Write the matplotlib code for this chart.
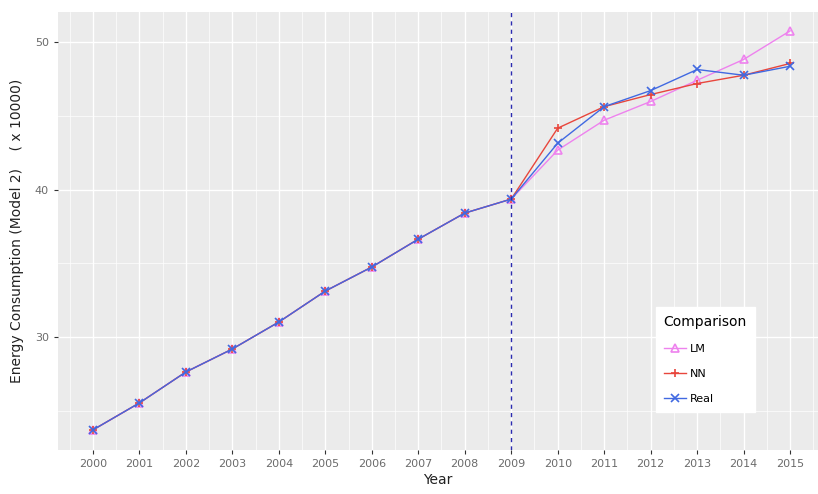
import numpy as np
import matplotlib.pyplot as plt

# data (units of 10000)
years = list(range(2000, 2016))
common = [23.70, 25.53, 27.63, 29.19, 31.02, 33.12, 34.75, 36.64, 38.41, 39.36]
lm = common + [42.68, 44.71, 45.98, 47.42, 48.83, 50.77]
nn = common + [44.17, 45.63, 46.45, 47.20, 47.76, 48.56]
real = common + [43.15, 45.63, 46.72, 48.15, 47.76, 48.37]

series = [('LM', lm, '#ee82ee', '^'),
          ('NN', nn, '#e8463c', '+'),
          ('Real', real, '#4169e1', 'x')]

fig = plt.figure(figsize=(8.18, 4.94), dpi=100)
ax = fig.add_axes([58 / 818, 44 / 494, 760 / 818, 438 / 494])
ax.set_facecolor('#ebebeb')

for name, vals, col, mk in series:
    ax.plot(years, vals, color=col, linewidth=1.0, marker=mk,
            markersize=6, markerfacecolor='none' if mk == '^' else col,
            markeredgewidth=1.2, label=name)

ax.axvline(2009, color='#2b2bb0', linestyle=(0, (3, 3)), linewidth=1.0)

ax.set_xlim(1999.25, 2015.6)
ax.set_ylim(22.34, 52.05)
ax.set_xticks(years)
ax.set_xticks(np.arange(1999.5, 2016, 1), minor=True)
ax.set_yticks([30, 40, 50])
ax.set_yticks([25, 35, 45], minor=True)

ax.grid(which='major', color='white', linewidth=1.0)
ax.grid(which='minor', color='white', linewidth=0.5)
ax.set_axisbelow(True)
for s in ax.spines.values():
    s.set_visible(False)
ax.tick_params(which='major', colors='#333333', labelcolor='#6b6b6b',
               labelsize=8, length=3)
ax.tick_params(which='minor', length=0)

ax.set_xlabel('Year', fontsize=10, color='#222222', labelpad=3)
ax.set_ylabel('Energy Consumption (Model 2)    ( x 10000)', fontsize=10,
              color='#222222', labelpad=8)

leg = ax.legend(title='Comparison', loc='lower right',
                bbox_to_anchor=(0.924, 0.075), frameon=True, fancybox=False,
                edgecolor='white', facecolor='white', framealpha=1,
                fontsize=8, title_fontsize=10, handlelength=2.0,
                labelspacing=1.35, borderpad=0.7, handletextpad=0.4)
leg._legend_box.align = 'left'

fig.savefig('out.png', dpi=100)
